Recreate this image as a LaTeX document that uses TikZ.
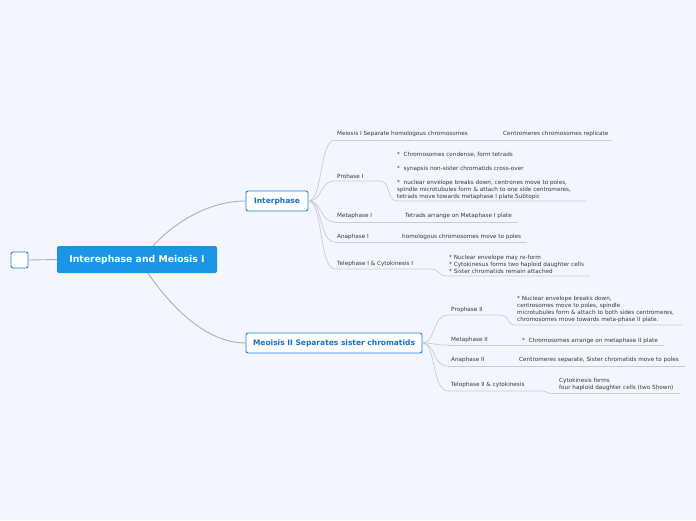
\documentclass[tikz,border=0pt]{standalone}
\usepackage{fontspec}
\setmainfont{DejaVu Sans}
\definecolor{bgC}{HTML}{F3F6FE}
\definecolor{lineC}{HTML}{C9CCD5}
\definecolor{mainLine}{HTML}{AEB0B8}
\definecolor{rootC}{HTML}{1B96E6}
\definecolor{blueB}{HTML}{1F7FDB}
\definecolor{blueT}{HTML}{1470CF}
\definecolor{txtC}{HTML}{383838}
\begin{document}
\begin{tikzpicture}[x=1pt,y=-1pt,
  conn/.style={draw=lineC, line width=0.7pt},
  mconn/.style={draw=mainLine, line width=0.9pt},
  leaf/.style={anchor=west, inner sep=0pt, font=\fontsize{5.7}{7}\selectfont, text=txtC, align=left},
  topic/.style={draw=blueB, fill=white, rounded corners=2pt, line width=0.9pt, text=blueT,
    font=\bfseries\fontsize{7.5}{9}\selectfont, inner sep=0pt, minimum height=20pt},
  rootbox/.style={fill=rootC, rounded corners=2pt, text=white, font=\bfseries\fontsize{9.3}{11}\selectfont,
    inner sep=0pt, minimum width=160pt, minimum height=27pt},
  blank/.style={draw=blueB, fill=white, rounded corners=2pt, line width=0.9pt, minimum width=17pt, minimum height=16pt, inner sep=0pt}
]
\fill[bgC] (0,0) rectangle (696,520);
\useasboundingbox (0,0) rectangle (696,520);

% main nodes
\node[blank] (blank) at (19.5,260) {};
\node[rootbox] (root) at (137,259.5) {Interephase and Meiosis I};
\node[topic, minimum width=62pt] (inter) at (277,201) {Interphase};
\node[topic, minimum width=176pt] (mei) at (334,343) {Meoisis II Separates sister chromatids};

\draw[mconn] (blank.east) -- (root.west);
\draw[mconn] ([xshift=16pt]root.north) .. controls (178,219) and (212,201) .. (inter.west);
\draw[mconn] ([xshift=11pt]root.south) .. controls (170,305) and (205,343) .. (mei.west);

% Interphase children: text
\node[leaf] (m1) at (337,134) {Meiosis I Separate homologous chromosomes};
\node[leaf] (m1c) at (503,134) {Centromeres chromosomes replicate};
\node[leaf] (p1) at (337,176) {Prohase I};
\node[leaf] (p1c) at (397,175.5) {*\ \ Chromosomes condense, form tetrads\\[7pt]
*\ \ synapsis non-sister chromatids cross-over\\[7pt]
*\ \ nuclear envelope breaks down, centrones move to poles,\\
spindle microtubules form \& attach to one side centromeres,\\
tetrads move towards metaphase I plate.Subtopic};
\node[leaf] (mt1) at (337,216) {Metaphase I};
\node[leaf] (mt1c) at (405,216) {Tetrads arrange on Metaphase I plate};
\node[leaf] (a1) at (337,237) {Anaphase I};
\node[leaf] (a1c) at (402,237) {homologous chromosomes move to poles};
\node[leaf] (t1) at (337,264) {Telephase I \& Cytokinesis I};
\node[leaf] (t1c) at (449,264) {* Nuclear envelope may re-form\\
* Cytokinesus forms two haploid daughter cells\\
* Sister chromatids remain attached};

% Interphase children: connectors and underlines
\coordinate (um1) at (335,140);
\coordinate (up1) at (335,181);
\coordinate (umt1) at (335,222);
\coordinate (ua1) at (335,242);
\coordinate (ut1) at (335,269);
\foreach \c in {um1,up1,umt1,ua1,ut1}{
  \draw[conn] (inter.east) .. controls ([xshift=-12pt]inter.east -| \c) and ([xshift=-16pt]\c) .. (\c);
}
\draw[conn] (um1) -- (612,140);
\draw[conn] (up1) -- (380,181) .. controls (391,181) and (386,201) .. (397,201) -- (586,201);
\draw[conn] (umt1) -- (518,222);
\draw[conn] (ua1) -- (527,242);
\draw[conn] (ut1) -- (430,269) .. controls (441,269) and (436,276) .. (448,276) -- (590,276);

% Meiosis II children: text
\node[leaf] (p2) at (451,310) {Prophase II};
\node[leaf] (p2c) at (517,309.5) {* Nuclear envelope breaks down,\\
centrosomes move to poles, spindle\\
microtubules form \& attach to both sides centromeres,\\
chromosomes move towards meta-phase II plate.};
\node[leaf] (mt2) at (451,340) {Metaphase II};
\node[leaf] (mt2c) at (522,340.5) {*\ \ Chromosomes arrange on metaphase II plate};
\node[leaf] (a2) at (451,360) {Anaphase II};
\node[leaf] (a2c) at (519,360) {Centromeres separate, Sister chromatids move to poles};
\node[leaf] (t2) at (451,385) {Telophase II \& cytokinesis};
\node[leaf] (t2c) at (559,384.5) {Cytokinesis forms\\
four haploid daughter cells (two Shown)};

\coordinate (up2) at (448,315);
\coordinate (umt2) at (448,345);
\coordinate (ua2) at (448,366);
\coordinate (ut2) at (448,391);
\foreach \c in {up2,umt2,ua2,ut2}{
  \draw[conn] (mei.east) .. controls ([xshift=-12pt]mei.east -| \c) and ([xshift=-16pt]\c) .. (\c);
}
\draw[conn] (up2) -- (500,315) .. controls (511,315) and (505,325) .. (516,325) -- (682,325);
\draw[conn] (umt2) -- (664,345);
\draw[conn] (ua2) -- (685,366);
\draw[conn] (ut2) -- (541,391) .. controls (549,391) and (545,393.5) .. (553,393.5) -- (680,393.5);
\end{tikzpicture}
\end{document}
